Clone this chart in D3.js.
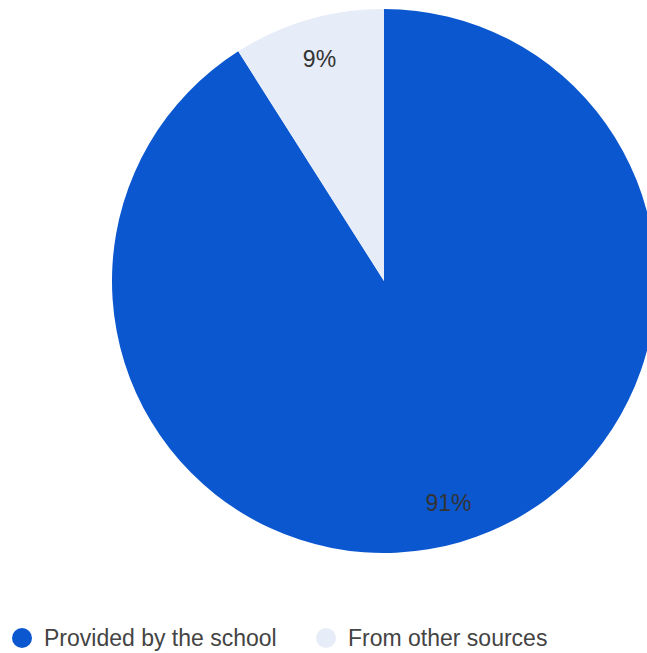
<!DOCTYPE html>
<html lang="en">
<head>
<meta charset="UTF-8">
<title>Pie chart</title>
<script src="https://cdn.jsdelivr.net/npm/d3@7"></script>
<style>
  body { margin: 0; background: #fff; overflow: hidden; }
  text { font-family: "Liberation Sans", Arial, sans-serif; }
</style>
</head>
<body>
<div id="chart"></div>
<script>
// data
const categories = ["Provided by the school", "From other sources"];
const values = [91, 9];
const colors = ["#0b57d0", "#e6ecf8"];

const width = 647, height = 653;
const cx = 384, cy = 281, radius = 272;

const svg = d3.select("#chart")
  .append("svg")
    .attr("width", width)
    .attr("height", height);

const pie = d3.pie().sort(null).value(d => d.value);
const arcs = pie(categories.map((c, i) => ({name: c, value: values[i]})));

const arc = d3.arc().innerRadius(0).outerRadius(radius);
const labelArc = d3.arc().innerRadius(radius * 0.85).outerRadius(radius * 0.85);

const g = svg.append("g").attr("transform", `translate(${cx},${cy})`);

g.selectAll("path")
  .data(arcs)
  .enter()
  .append("path")
    .attr("d", arc)
    .attr("fill", (d, i) => colors[i]);

g.selectAll(".label")
  .data(arcs)
  .enter()
  .append("text")
    .attr("class", "label")
    .attr("transform", d => `translate(${labelArc.centroid(d)})`)
    .attr("text-anchor", "middle")
    .attr("dy", "0.35em")
    .style("font-size", "23px")
    .style("fill", "#333")
    .text(d => d.data.value + "%");

// legend
const legendX = [22, 326];
const legend = svg.append("g").attr("transform", `translate(0,638)`);
categories.forEach((c, i) => {
  legend.append("circle")
    .attr("cx", legendX[i])
    .attr("cy", 0)
    .attr("r", 10)
    .attr("fill", colors[i]);
  legend.append("text")
    .attr("x", legendX[i] + 22)
    .attr("y", 0)
    .attr("dy", "0.35em")
    .style("font-size", "23px")
    .style("fill", "#444")
    .text(c);
});
</script>
</body>
</html>
